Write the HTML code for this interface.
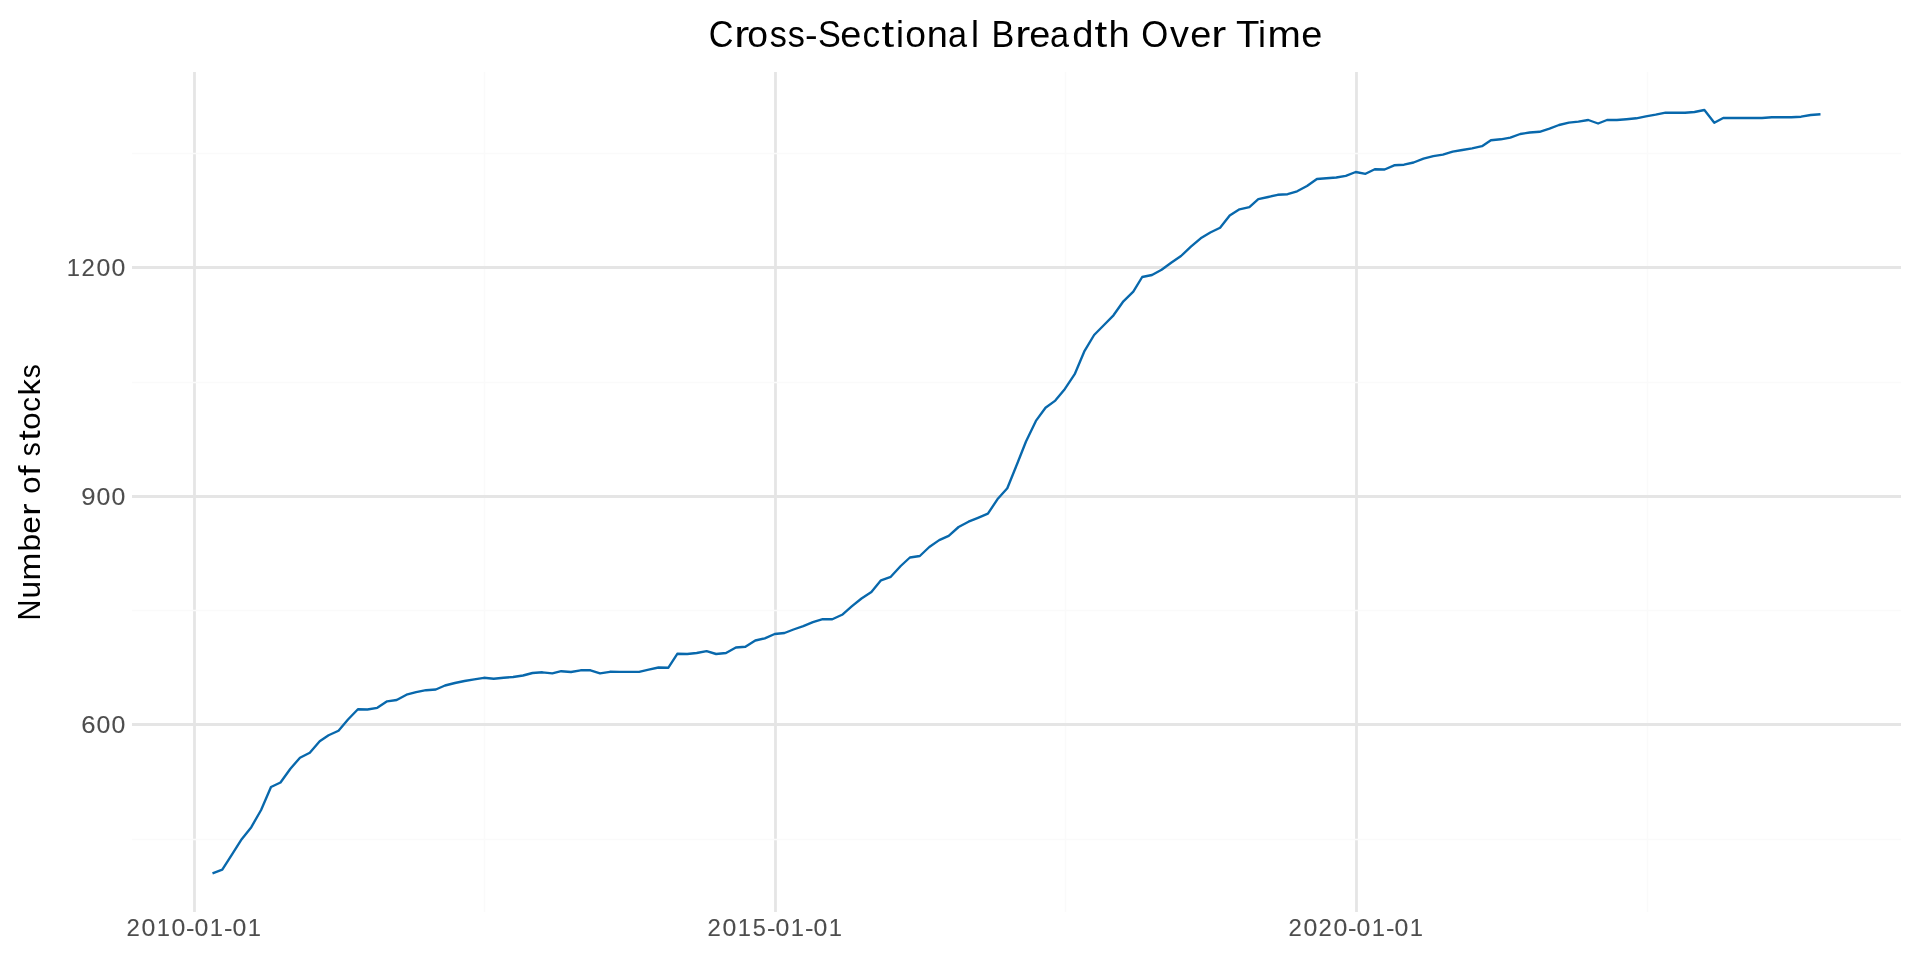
<!DOCTYPE html>
<html lang="en">
<head>
<meta charset="utf-8">
<title>Cross-Sectional Breadth Over Time</title>
<style>
html,body{margin:0;padding:0;background:#ffffff;font-family:"Liberation Sans",sans-serif;}
body{width:1920px;height:960px;position:relative;overflow:hidden;font-family:"Liberation Sans",sans-serif;}
.plot{position:absolute;left:0;top:0;display:block;}
.t{position:absolute;white-space:pre;line-height:1;font-family:"Liberation Sans",sans-serif;will-change:transform;-webkit-font-smoothing:antialiased;}
.g{display:inline-block;transform-origin:0 var(--b);overflow:visible;}
.title{color:#000000;-webkit-text-stroke:0px #000000;}
.ylab{color:#000000;-webkit-text-stroke:0px #000000;}
.tick{color:#4d4d4d;-webkit-text-stroke:0.1px #4d4d4d;}
</style>
</head>
<body>
<svg class="plot" width="1920" height="960" viewBox="0 0 1920 960">
<rect x="0" y="0" width="1920" height="960" fill="#ffffff"/>
<g fill="none" stroke="#e5e5e5" stroke-width="2.78"><line x1="194.5" y1="72.0" x2="194.5" y2="912.0"/><line x1="775.5" y1="72.0" x2="775.5" y2="912.0"/><line x1="1356.5" y1="72.0" x2="1356.5" y2="912.0"/></g>
<g fill="none" stroke="#fafafa" stroke-width="1.39"><line x1="484.5" y1="72.0" x2="484.5" y2="912.0"/><line x1="1065.5" y1="72.0" x2="1065.5" y2="912.0"/><line x1="1647.5" y1="72.0" x2="1647.5" y2="912.0"/></g>
<g fill="none" stroke="#e5e5e5" stroke-width="2.78"><line x1="132.0" y1="267.5" x2="1901.0" y2="267.5"/><line x1="132.0" y1="496.5" x2="1901.0" y2="496.5"/><line x1="132.0" y1="724.5" x2="1901.0" y2="724.5"/></g>
<g fill="none" stroke="#fafafa" stroke-width="1.39"><line x1="132.0" y1="153.5" x2="1901.0" y2="153.5"/><line x1="132.0" y1="382.5" x2="1901.0" y2="382.5"/><line x1="132.0" y1="610.5" x2="1901.0" y2="610.5"/><line x1="132.0" y1="839.5" x2="1901.0" y2="839.5"/></g>
<polyline fill="none" stroke="#0868ac" stroke-width="2.36" stroke-linejoin="round" stroke-linecap="butt" points="212.5,873.3 222.3,869.7 231.9,854.7 241.7,839.2 251.3,827.2 261.1,810.0 271.0,787.0 280.5,782.5 290.4,768.7 300.0,757.7 309.8,752.7 319.7,741.2 328.6,735.2 338.5,730.7 348.0,719.5 357.9,709.2 367.4,709.5 377.3,707.8 387.1,701.3 396.7,700.0 406.5,694.7 416.1,692.2 426.0,690.2 435.8,689.5 445.0,685.5 454.9,683.0 464.5,681.0 474.3,679.3 483.9,677.8 493.7,678.7 503.6,677.8 513.1,677.0 523.0,675.5 532.5,673.0 542.4,672.3 552.3,673.3 561.2,671.2 571.0,672.0 580.6,670.3 590.5,670.3 600.0,673.3 609.9,671.8 619.7,671.9 629.3,671.9 639.1,671.9 648.7,669.7 658.5,667.5 668.4,667.7 677.3,653.8 687.2,654.0 696.7,653.0 706.6,651.2 716.1,654.0 726.0,653.0 735.9,647.5 745.4,646.8 755.3,640.5 764.8,638.3 774.7,634.0 784.5,633.0 793.5,629.5 803.3,626.2 812.9,622.2 822.7,619.2 832.3,619.3 842.1,614.8 852.0,606.2 861.5,598.5 871.4,592.0 881.0,580.3 890.8,576.8 900.7,566.0 909.9,557.5 919.8,556.0 929.3,547.0 939.2,540.1 948.7,535.8 958.6,527.0 968.5,521.7 978.0,517.8 987.9,513.7 997.4,499.3 1007.3,488.2 1017.1,464.0 1026.0,441.5 1035.9,420.9 1045.5,407.7 1055.3,400.6 1064.9,388.9 1074.7,374.2 1084.6,350.8 1094.1,335.0 1104.0,325.0 1113.5,315.3 1123.4,301.3 1133.3,291.7 1142.2,277.0 1152.0,275.0 1161.6,269.8 1171.5,262.5 1181.0,256.0 1190.9,246.7 1200.7,238.3 1210.3,232.5 1220.1,227.8 1229.7,215.5 1239.5,209.3 1249.4,207.2 1258.3,199.2 1268.2,197.0 1277.7,194.8 1287.6,194.2 1297.1,191.3 1307.0,186.0 1316.9,179.0 1326.4,178.3 1336.3,177.5 1345.8,175.8 1355.7,172.0 1365.5,173.8 1374.8,169.2 1384.6,169.5 1394.2,165.3 1404.0,164.7 1413.6,162.5 1423.5,158.7 1433.3,156.2 1442.9,154.7 1452.7,151.7 1462.3,150.0 1472.1,148.3 1482.0,146.2 1490.9,140.2 1500.8,139.3 1510.3,137.7 1520.2,134.0 1529.7,132.5 1539.6,131.8 1549.5,128.7 1559.0,125.0 1568.9,122.7 1578.4,121.7 1588.3,120.0 1598.1,123.5 1607.0,120.0 1616.9,120.0 1626.5,119.2 1636.3,118.3 1645.9,116.3 1655.7,114.7 1665.6,112.7 1675.1,112.7 1685.0,112.8 1694.5,112.0 1704.4,110.0 1714.3,122.8 1723.2,118.0 1733.0,118.0 1742.6,118.0 1752.5,118.0 1762.0,118.0 1771.9,117.3 1781.7,117.3 1791.3,117.3 1801.1,116.7 1810.7,115.0 1820.5,114.3"/>
</svg>
<div class="t title" style="left:708.80px;top:15px;font-size:38.00px;transform-origin:0 32px;--b:32px;"><span class="g" style="width:24.50px;transform:translate(-0.28px,0.13px) scale(0.9000,0.9843)">C</span><span class="g" style="width:13.88px;transform:translate(0.19px,0.00px) scale(1.1842,0.9587)">r</span><span class="g" style="width:21.38px;transform:translate(0.37px,0.14px) scale(0.9817,0.9655)">o</span><span class="g" style="width:18.25px;transform:translate(0.83px,0.14px) scale(0.9000,0.9684)">s</span><span class="g" style="width:18.25px;transform:translate(0.83px,0.14px) scale(0.9000,0.9684)">s</span><span class="g" style="width:12.75px;transform:translate(0.04px,-0.08px) scale(0.9949,0.9421)">-</span><span class="g" style="width:22.38px;transform:translate(-0.08px,0.13px) scale(0.9000,0.9843)">S</span><span class="g" style="width:21.50px;transform:translate(0.33px,0.14px) scale(0.9974,0.9655)">e</span><span class="g" style="width:19.25px;transform:translate(0.44px,0.14px) scale(0.9276,0.9655)">c</span><span class="g" style="width:13.88px;transform:translate(0.42px,-0.29px) scale(1.2000,0.9887)">t</span><span class="g" style="width:9.62px;transform:translate(0.91px,0.00px) scale(0.9439,0.9659)">i</span><span class="g" style="width:21.38px;transform:translate(0.37px,0.14px) scale(0.9817,0.9655)">o</span><span class="g" style="width:22.38px;transform:translate(0.66px,0.00px) scale(0.9971,0.9587)">n</span><span class="g" style="width:21.62px;transform:translate(-0.02px,0.14px) scale(0.9000,0.9655)">a</span><span class="g" style="width:9.62px;transform:translate(0.89px,0.00px) scale(0.9439,0.9659)">l</span><span class="g" style="width:11.12px"> </span><span class="g" style="width:24.12px;transform:translate(0.62px,0.00px) scale(0.9000,0.9761)">B</span><span class="g" style="width:13.88px;transform:translate(0.19px,0.00px) scale(1.1842,0.9587)">r</span><span class="g" style="width:21.50px;transform:translate(0.33px,0.14px) scale(0.9974,0.9655)">e</span><span class="g" style="width:21.62px;transform:translate(-0.02px,0.14px) scale(0.9000,0.9655)">a</span><span class="g" style="width:22.25px;transform:translate(0.34px,0.14px) scale(1.0046,0.9709)">d</span><span class="g" style="width:13.88px;transform:translate(0.42px,-0.29px) scale(1.2000,0.9887)">t</span><span class="g" style="width:22.38px;transform:translate(0.54px,0.00px) scale(1.0039,0.9659)">h</span><span class="g" style="width:11.12px"> </span><span class="g" style="width:27.75px;transform:translate(0.33px,0.13px) scale(0.9139,0.9843)">O</span><span class="g" style="width:20.75px;transform:translate(0.92px,0.00px) scale(0.9967,0.9533)">v</span><span class="g" style="width:21.50px;transform:translate(0.33px,0.14px) scale(0.9974,0.9655)">e</span><span class="g" style="width:14.62px;transform:translate(0.19px,0.00px) scale(1.1842,0.9587)">r</span><span class="g" style="width:11.12px"> </span><span class="g" style="width:20.25px;transform:translate(-0.98px,0.00px) scale(1.0087,0.9761)">T</span><span class="g" style="width:9.62px;transform:translate(0.91px,0.00px) scale(0.9439,0.9659)">i</span><span class="g" style="width:34.38px;transform:translate(0.52px,0.00px) scale(1.0534,0.9587)">m</span><span class="g" style="width:21.50px;transform:translate(0.33px,0.14px) scale(0.9974,0.9655)">e</span></div>
<div class="t ylab" style="left:40.10px;top:595.90px;font-size:30.80px;transform-origin:0 25px;transform:rotate(-90deg);--b:25px;"><span class="g" style="width:21.88px;transform:translate(0.50px,0.00px) scale(0.9399,0.9912)">N</span><span class="g" style="width:18.50px;transform:translate(0.43px,0.11px) scale(1.0263,0.9981)">u</span><span class="g" style="width:28.50px;transform:translate(0.44px,0.00px) scale(1.0841,0.9728)">m</span><span class="g" style="width:18.62px;transform:translate(0.60px,0.11px) scale(1.0350,0.9856)">b</span><span class="g" style="width:18.00px;transform:translate(0.26px,0.12px) scale(1.0282,0.9798)">e</span><span class="g" style="width:12.12px;transform:translate(0.28px,0.00px) scale(1.2000,0.9728)">r</span><span class="g" style="width:9.25px"> </span><span class="g" style="width:17.88px;transform:translate(0.30px,0.12px) scale(1.0118,0.9798)">o</span><span class="g" style="width:10.25px;transform:translate(0.35px,0.00px) scale(1.2000,0.9819)">f</span><span class="g" style="width:9.25px"> </span><span class="g" style="width:15.38px;transform:translate(0.81px,0.11px) scale(0.9114,0.9825)">s</span><span class="g" style="width:11.50px;transform:translate(0.50px,-0.25px) scale(1.2000,1.0031)">t</span><span class="g" style="width:17.88px;transform:translate(0.30px,0.12px) scale(1.0118,0.9798)">o</span><span class="g" style="width:16.12px;transform:translate(0.36px,0.12px) scale(0.9552,0.9798)">c</span><span class="g" style="width:16.88px;transform:translate(0.44px,0.00px) scale(1.0644,0.9805)">k</span><span class="g" style="width:15.38px;transform:translate(0.81px,0.11px) scale(0.9114,0.9825)">s</span></div>
<div class="t tick" style="left:65.92px;top:257px;font-size:23.70px;transform-origin:0 19px;--b:19px;"><span class="g" style="width:14.88px;transform:translate(0.78px,0.00px) scale(1.0015,1.0151)">1</span><span class="g" style="width:15.00px;transform:translate(0.52px,0.00px) scale(1.0102,1.0186)">2</span><span class="g" style="width:14.88px;transform:translate(0.58px,0.09px) scale(1.0484,1.0239)">0</span><span class="g" style="width:14.88px;transform:translate(0.58px,0.09px) scale(1.0484,1.0239)">0</span></div>
<div class="t tick" style="left:80.92px;top:486px;font-size:23.70px;transform-origin:0 19px;--b:19px;"><span class="g" style="width:14.88px;transform:translate(0.28px,0.09px) scale(1.0831,1.0239)">9</span><span class="g" style="width:14.88px;transform:translate(0.58px,0.09px) scale(1.0484,1.0239)">0</span><span class="g" style="width:14.88px;transform:translate(0.58px,0.09px) scale(1.0484,1.0239)">0</span></div>
<div class="t tick" style="left:80.80px;top:714px;font-size:23.70px;transform-origin:0 19px;--b:19px;"><span class="g" style="width:15.00px;transform:translate(0.34px,0.09px) scale(1.0845,1.0239)">6</span><span class="g" style="width:14.88px;transform:translate(0.58px,0.09px) scale(1.0484,1.0239)">0</span><span class="g" style="width:14.88px;transform:translate(0.58px,0.09px) scale(1.0484,1.0239)">0</span></div>
<div class="t tick" style="left:125.81px;top:917px;font-size:23.70px;transform-origin:0 19px;--b:19px;"><span class="g" style="width:15.00px;transform:translate(0.52px,0.00px) scale(1.0102,1.0186)">2</span><span class="g" style="width:14.88px;transform:translate(0.58px,0.09px) scale(1.0484,1.0239)">0</span><span class="g" style="width:14.88px;transform:translate(0.78px,0.00px) scale(1.0015,1.0151)">1</span><span class="g" style="width:14.88px;transform:translate(0.58px,0.09px) scale(1.0484,1.0239)">0</span><span class="g" style="width:8.38px;transform:translate(0.04px,-0.03px) scale(1.0705,0.9833)">-</span><span class="g" style="width:14.88px;transform:translate(0.58px,0.09px) scale(1.0484,1.0239)">0</span><span class="g" style="width:14.88px;transform:translate(0.78px,0.00px) scale(1.0015,1.0151)">1</span><span class="g" style="width:8.38px;transform:translate(0.04px,-0.03px) scale(1.0705,0.9833)">-</span><span class="g" style="width:14.88px;transform:translate(0.58px,0.09px) scale(1.0484,1.0239)">0</span><span class="g" style="width:14.88px;transform:translate(0.78px,0.00px) scale(1.0015,1.0151)">1</span></div>
<div class="t tick" style="left:706.81px;top:917px;font-size:23.70px;transform-origin:0 19px;--b:19px;"><span class="g" style="width:15.00px;transform:translate(0.52px,0.00px) scale(1.0102,1.0186)">2</span><span class="g" style="width:14.88px;transform:translate(0.58px,0.09px) scale(1.0484,1.0239)">0</span><span class="g" style="width:14.88px;transform:translate(0.78px,0.00px) scale(1.0015,1.0151)">1</span><span class="g" style="width:14.88px;transform:translate(0.87px,0.09px) scale(0.9916,1.0205)">5</span><span class="g" style="width:8.38px;transform:translate(0.04px,-0.03px) scale(1.0705,0.9833)">-</span><span class="g" style="width:14.88px;transform:translate(0.58px,0.09px) scale(1.0484,1.0239)">0</span><span class="g" style="width:14.88px;transform:translate(0.78px,0.00px) scale(1.0015,1.0151)">1</span><span class="g" style="width:8.38px;transform:translate(0.04px,-0.03px) scale(1.0705,0.9833)">-</span><span class="g" style="width:14.88px;transform:translate(0.58px,0.09px) scale(1.0484,1.0239)">0</span><span class="g" style="width:14.88px;transform:translate(0.78px,0.00px) scale(1.0015,1.0151)">1</span></div>
<div class="t tick" style="left:1287.81px;top:917px;font-size:23.70px;transform-origin:0 19px;--b:19px;"><span class="g" style="width:15.00px;transform:translate(0.52px,0.00px) scale(1.0102,1.0186)">2</span><span class="g" style="width:14.88px;transform:translate(0.58px,0.09px) scale(1.0484,1.0239)">0</span><span class="g" style="width:15.00px;transform:translate(0.52px,0.00px) scale(1.0102,1.0186)">2</span><span class="g" style="width:14.88px;transform:translate(0.58px,0.09px) scale(1.0484,1.0239)">0</span><span class="g" style="width:8.38px;transform:translate(0.04px,-0.03px) scale(1.0705,0.9833)">-</span><span class="g" style="width:14.88px;transform:translate(0.58px,0.09px) scale(1.0484,1.0239)">0</span><span class="g" style="width:14.88px;transform:translate(0.78px,0.00px) scale(1.0015,1.0151)">1</span><span class="g" style="width:8.38px;transform:translate(0.04px,-0.03px) scale(1.0705,0.9833)">-</span><span class="g" style="width:14.88px;transform:translate(0.58px,0.09px) scale(1.0484,1.0239)">0</span><span class="g" style="width:14.88px;transform:translate(0.78px,0.00px) scale(1.0015,1.0151)">1</span></div>
</body>
</html>
